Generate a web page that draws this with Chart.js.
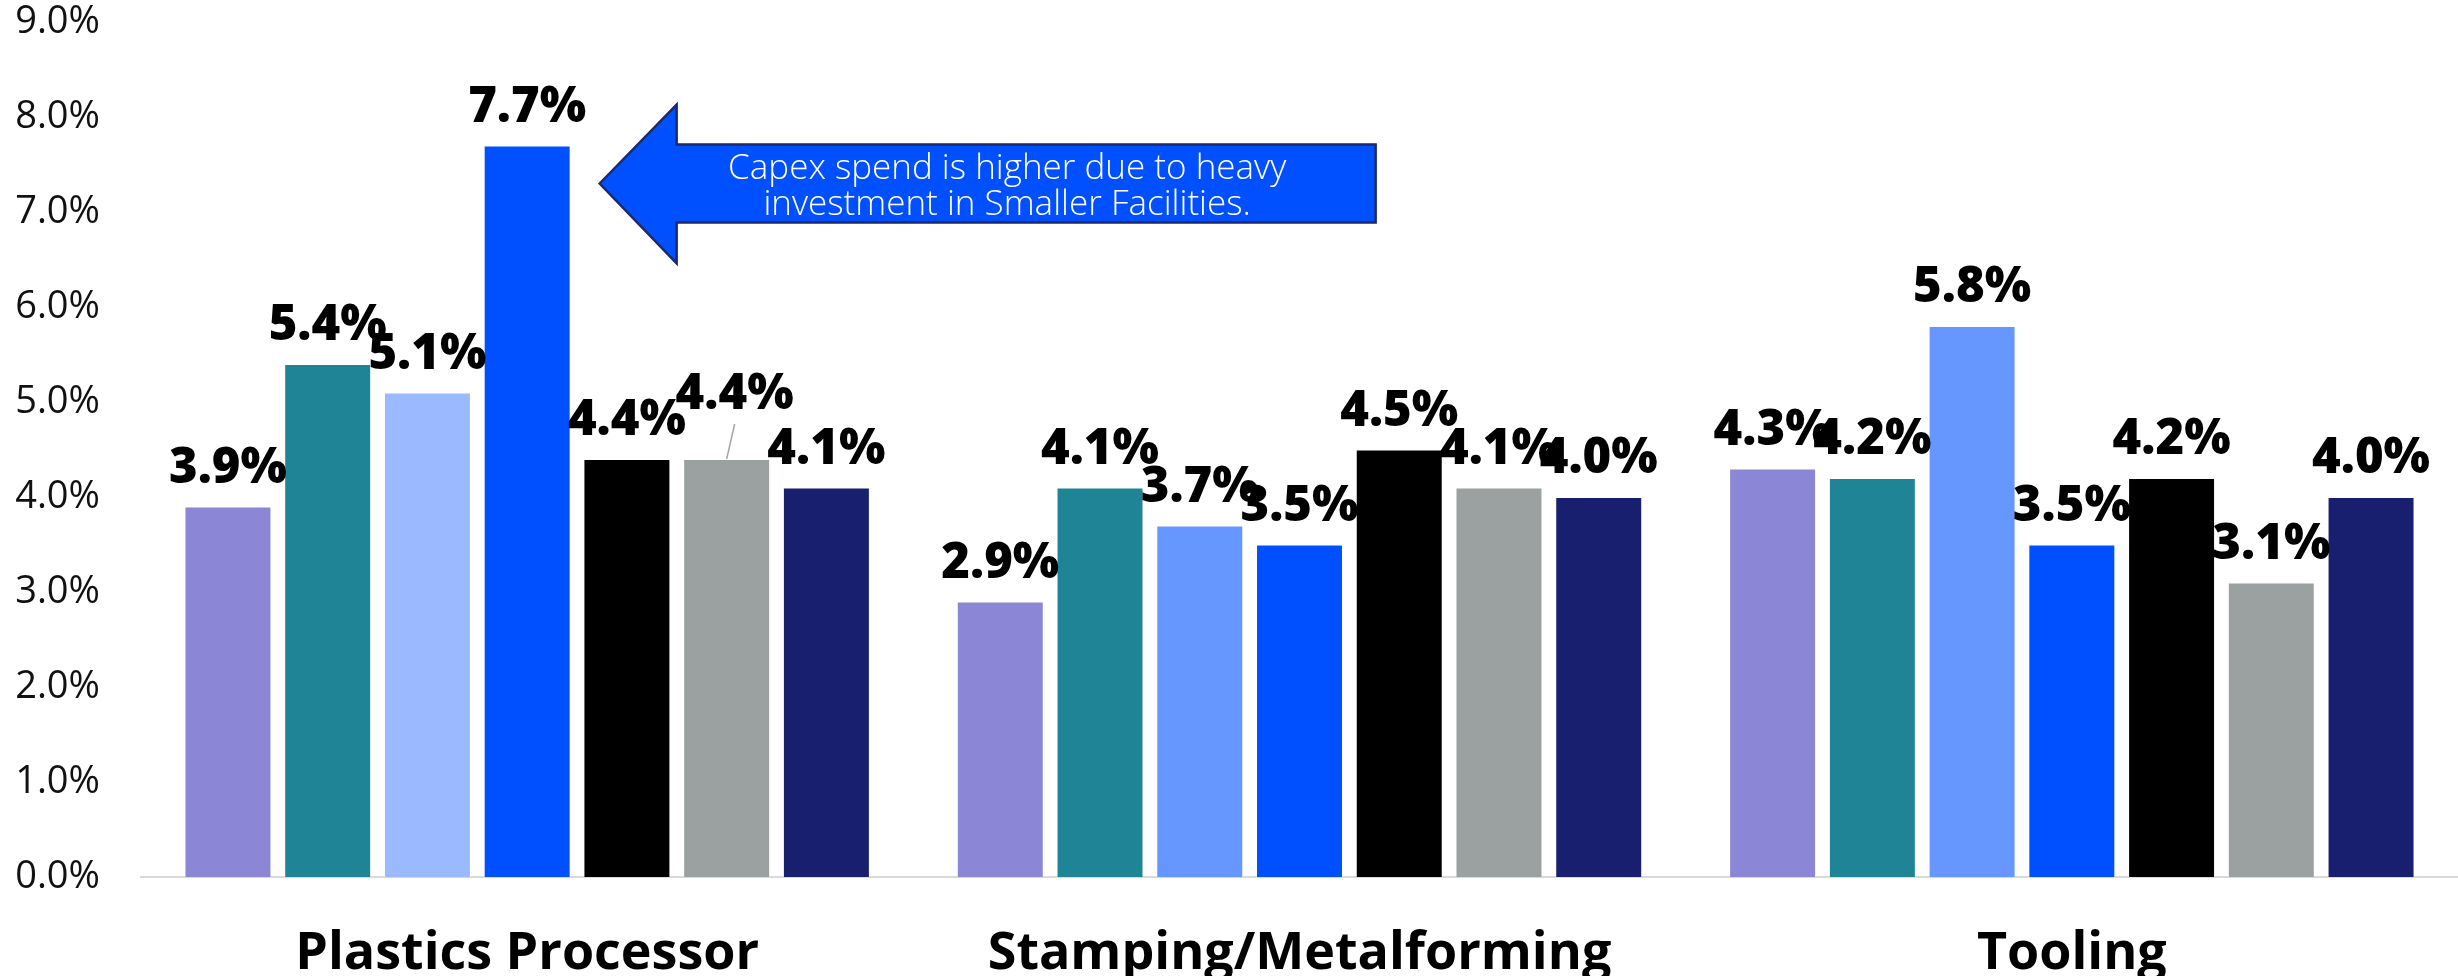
<!DOCTYPE html>
<html>
<head>
<meta charset="utf-8">
<script src="https://cdn.jsdelivr.net/npm/chart.js@4.4.1/dist/chart.umd.min.js"></script>
<style>
  html, body { margin: 0; padding: 0; background: #ffffff; }
  #c { display: block; }
</style>
</head>
<body>
<canvas id="c" width="2458" height="976"></canvas>
<script>
// Capex as a share of sales, by industry segment and facility group
const categories = ['Plastics Processor', 'Stamping/Metalforming', 'Tooling'];

const group1 = [3.9, 2.9, 4.3];
const group2 = [5.4, 4.1, 4.2];
const group3 = [5.1, 3.7, 5.8];
const group4 = [7.7, 3.5, 3.5];
const group5 = [4.4, 4.5, 4.2];
const group6 = [4.4, 4.1, 3.1];
const group7 = [4.1, 4.0, 4.0];

const groupNames = ['Group 1', 'Group 2', 'Group 3', 'Group 4', 'Group 5', 'Group 6', 'Group 7'];
const groupValues = [group1, group2, group3, group4, group5, group6, group7];
const groupColors = [
  '#8C86D6',
  '#1F8496',
  ['#9BB9FF', '#6696FF', '#6696FF'],
  '#0050FF',
  '#000000',
  '#9BA0A0',
  '#171F6E'
];

const yMin = 0;
const yMax = 9;
const yStep = 1;

const calloutLines = ['Capex spend is higher due to heavy', 'investment in Smaller Facilities.'];

const FONT = '"Open Sans", "DejaVu Sans", sans-serif';

// Value labels above every bar; one label is lifted with a leader line
const valueLabels = {
  id: 'valueLabels',
  afterDatasetsDraw(chart, args, opts) {
    const ctx = chart.ctx;
    ctx.save();
    ctx.font = '800 49px ' + FONT;
    ctx.fillStyle = '#000000';
    ctx.textAlign = 'center';
    ctx.textBaseline = 'alphabetic';
    chart.data.datasets.forEach((ds, di) => {
      const meta = chart.getDatasetMeta(di);
      meta.data.forEach((bar, i) => {
        const v = ds.data[i];
        let x = bar.x;
        let base = bar.y - 24;
        const lift = opts.lifted.find(l => l.dataset === di && l.index === i);
        if (lift) {
          x += lift.dx;
          base -= lift.dy;
          ctx.save();
          ctx.strokeStyle = '#A6A6A6';
          ctx.lineWidth = 1.5;
          ctx.beginPath();
          ctx.moveTo(x, base + 15);
          ctx.lineTo(bar.x, bar.y);
          ctx.stroke();
          ctx.restore();
        }
        ctx.fillText(v.toFixed(1) + '%', x, base);
      });
    });
    ctx.restore();
  }
};

// Left-pointing block arrow with a note, aimed at one bar
const callout = {
  id: 'callout',
  afterDatasetsDraw(chart, args, o) {
    const ys = chart.scales.y;
    const bar = chart.getDatasetMeta(o.dataset).data[o.index];
    const tipX = bar.x + bar.width / 2 + o.gap;
    const neckX = tipX + o.headLength;
    const endX = neckX + o.bodyLength;
    const tipY = ys.getPixelForValue(o.tipValue);
    const headTop = ys.getPixelForValue(o.headTopValue);
    const headBottom = ys.getPixelForValue(o.headBottomValue);
    const bodyTop = ys.getPixelForValue(o.bodyTopValue);
    const bodyBottom = ys.getPixelForValue(o.bodyBottomValue);
    const ctx = chart.ctx;
    ctx.save();
    ctx.beginPath();
    ctx.moveTo(tipX, tipY);
    ctx.lineTo(neckX, headTop);
    ctx.lineTo(neckX, bodyTop);
    ctx.lineTo(endX, bodyTop);
    ctx.lineTo(endX, bodyBottom);
    ctx.lineTo(neckX, bodyBottom);
    ctx.lineTo(neckX, headBottom);
    ctx.closePath();
    ctx.fillStyle = '#0050FF';
    ctx.fill();
    ctx.lineWidth = 2.5;
    ctx.strokeStyle = '#1A2A6C';
    ctx.lineJoin = 'miter';
    ctx.stroke();

    ctx.fillStyle = '#FFFFFF';
    ctx.font = '300 35px ' + FONT;
    ctx.textAlign = 'center';
    ctx.textBaseline = 'alphabetic';
    const cx = (neckX + endX) / 2 + o.textShift;
    const mid = (bodyTop + bodyBottom) / 2;
    ctx.fillText(calloutLines[0], cx, mid - 5);
    ctx.fillText(calloutLines[1], cx, mid + 31);
    ctx.restore();
  }
};

const datasets = groupNames.map((name, k) => ({
  label: name,
  data: groupValues[k],
  backgroundColor: groupColors[k],
  borderColor: 'rgba(255,255,255,0.45)',
  borderWidth: 1,
  categoryPercentage: 0.904,
  barPercentage: 0.872
}));

new Chart(document.getElementById('c'), {
  type: 'bar',
  data: { labels: categories, datasets },
  plugins: [valueLabels, callout],
  options: {
    responsive: false,
    animation: false,
    devicePixelRatio: 1,
    layout: { padding: { top: 22, right: 0, bottom: 0, left: 0 } },
    plugins: {
      legend: { display: false },
      tooltip: { enabled: false },
      valueLabels: {
        lifted: [{ dataset: 5, index: 0, dx: 8, dy: 26 }]
      },
      callout: {
        dataset: 3, index: 0,
        gap: 29, headLength: 77, bodyLength: 699,
        tipValue: 7.3,
        headTopValue: 8.13, headBottomValue: 6.46,
        bodyTopValue: 7.71, bodyBottomValue: 6.89,
        textShift: -19
      }
    },
    scales: {
      x: {
        grid: { display: false, drawTicks: false, tickLength: 0 },
        border: { display: true, color: '#D9D9D9', width: 2 },
        ticks: {
          color: '#000000',
          font: { family: FONT, size: 52, weight: 'bold' },
          padding: 46,
          maxRotation: 0,
          autoSkip: false
        },
        afterFit(scale) { scale.height = 99; }
      },
      y: {
        min: yMin,
        max: yMax,
        grid: { display: false, drawTicks: false, tickLength: 0 },
        border: { display: false },
        ticks: {
          stepSize: yStep,
          color: '#111111',
          font: { family: FONT, size: 38, weight: 'normal' },
          padding: 41,
          callback: v => Number(v).toFixed(1) + '%'
        },
        afterFit(scale) {
          scale.width = 141;
          scale.paddingTop = 0;
          scale.paddingBottom = 0;
        }
      }
    }
  }
});
</script>
</body>
</html>
